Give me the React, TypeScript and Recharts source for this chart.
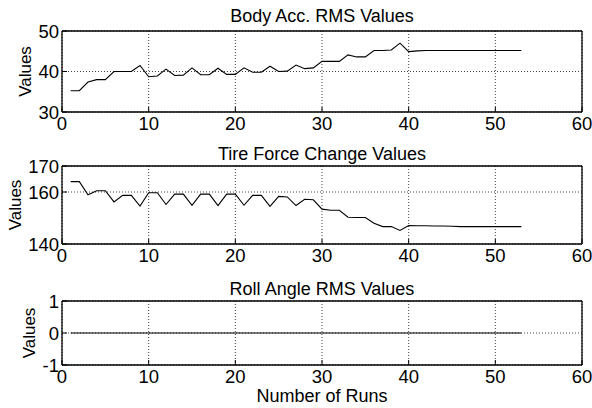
import React from 'react';
import { LineChart, Line, XAxis, YAxis, CartesianGrid } from 'recharts';

const runs = [1, 2, 3, 4, 5, 6, 7, 8, 9, 10, 11, 12, 13, 14, 15, 16, 17, 18, 19, 20, 21, 22, 23, 24, 25, 26, 27, 28, 29, 30, 31, 32, 33, 34, 35, 36, 37, 38, 39, 40, 41, 42, 43, 44, 45, 46, 47, 48, 49, 50, 51, 52, 53];

const bodyAcc = [35.25, 35.25, 37.4, 38.0, 38.0, 40.0, 40.0, 40.0, 41.5, 38.7, 38.9, 40.6, 39.0, 39.1, 40.9, 39.2, 39.2, 40.8, 39.3, 39.3, 40.9, 39.8, 39.8, 41.3, 40.0, 40.1, 41.6, 40.7, 40.9, 42.5, 42.5, 42.5, 44.1, 43.6, 43.6, 45.2, 45.2, 45.3, 47.0, 44.9, 45.1, 45.2, 45.2, 45.2, 45.2, 45.2, 45.2, 45.2, 45.2, 45.2, 45.2, 45.2, 45.2];

const tireForce = [164, 164, 158.9, 160.5, 160.5, 156.2, 158.7, 158.7, 154.6, 159.7, 159.7, 155.2, 159.2, 159.2, 154.9, 159.2, 159.2, 154.8, 159.2, 159.2, 154.9, 158.7, 158.7, 154.5, 158.3, 158.1, 154.8, 157.2, 157.0, 153.4, 153.0, 153.0, 150.3, 150.2, 150.2, 148.0, 146.7, 146.7, 145.2, 147.1, 147.0, 147.0, 146.9, 146.9, 146.8, 146.7, 146.7, 146.7, 146.7, 146.7, 146.7, 146.7, 146.7];

const rollAngle = [0, 0, 0, 0, 0, 0, 0, 0, 0, 0, 0, 0, 0, 0, 0, 0, 0, 0, 0, 0, 0, 0, 0, 0, 0, 0, 0, 0, 0, 0, 0, 0, 0, 0, 0, 0, 0, 0, 0, 0, 0, 0, 0, 0, 0, 0, 0, 0, 0, 0, 0, 0, 0];

const xTicks = [0, 10, 20, 30, 40, 50, 60];
const bodyTicks = [30, 40, 50];
const tireTicks = [140, 160, 170];
const rollTicks = [-1, 0, 1];

const titles = ['Body Acc. RMS Values', 'Tire Force Change Values', 'Roll Angle RMS Values'];
const yLabel = 'Values';
const xLabel = 'Number of Runs';

const data = runs.map((r, i) => ({ run: r, body: bodyAcc[i], tire: tireForce[i], roll: rollAngle[i] }));

const FONT = '"Liberation Sans", Arial, Helvetica, sans-serif';
const textStyle = { fill: '#000', fontSize: 18, fontFamily: FONT };
const tickStyle = { fill: '#000', fontSize: 18.5, fontFamily: FONT };
const yLabelStyle = { fill: '#000', fontSize: 17, fontFamily: FONT };

type PanelProps = {
  title: string;
  dataKey: string;
  domain: [number, number];
  yTicks: number[];
  top: number;
  plotHeight: number;
  bottomHeight: number;
  showXLabel?: boolean;
  titleDy: number;
  yLabelDx: number;
};

function Panel({ title, dataKey, domain, yTicks, top, plotHeight, bottomHeight, showXLabel, titleDy, yLabelDx }: PanelProps) {
  const topH = 31;
  const height = topH + plotHeight + bottomHeight;
  return (
    <div style={{ position: 'absolute', left: 0, top, width: 592, height }}>
      <LineChart width={592} height={height} data={data} margin={{ top: 0, right: 0, bottom: 0, left: 0 }}>
        <CartesianGrid stroke="#444" strokeDasharray="1 2" strokeWidth={1} />
        <XAxis
          dataKey="run"
          type="number"
          domain={[0, 60]}
          ticks={xTicks}
          interval={0}
          height={bottomHeight}
          tickSize={-5}
          tickMargin={10}
          stroke="#000"
          tick={tickStyle}
          axisLine={{ stroke: '#000', strokeWidth: 1.3 }}
          tickLine={{ stroke: '#000' }}
          label={showXLabel ? { value: xLabel, position: 'insideBottom', offset: 6, style: textStyle } : undefined}
        />
        <XAxis
          xAxisId="top"
          orientation="top"
          dataKey="run"
          type="number"
          domain={[0, 60]}
          ticks={xTicks}
          interval={0}
          height={topH}
          tickSize={-5}
          tick={false}
          stroke="#000"
          axisLine={{ stroke: '#000', strokeWidth: 1.3 }}
          tickLine={{ stroke: '#000' }}
          label={{ value: title, position: 'center', dy: titleDy, style: textStyle }}
        />
        <YAxis
          type="number"
          domain={domain}
          ticks={yTicks}
          interval={0}
          width={62}
          tickSize={-5}
          tickMargin={8}
          stroke="#000"
          tick={tickStyle}
          axisLine={{ stroke: '#000', strokeWidth: 1.3 }}
          tickLine={{ stroke: '#000' }}
          label={{ value: yLabel, angle: -90, position: 'center', dx: yLabelDx, style: yLabelStyle }}
        />
        <YAxis
          yAxisId="right"
          orientation="right"
          type="number"
          domain={domain}
          ticks={yTicks}
          interval={0}
          width={10}
          tickSize={-5}
          tick={false}
          stroke="#000"
          axisLine={{ stroke: '#000', strokeWidth: 1.3 }}
          tickLine={{ stroke: '#000' }}
        />
        <Line
          type="linear"
          dataKey={dataKey}
          stroke="#000"
          strokeWidth={1.1}
          dot={false}
          isAnimationActive={false}
        />
      </LineChart>
    </div>
  );
}

export default function App() {
  return (
    <div style={{ position: 'absolute', left: 0, top: 0, width: 592, height: 408, background: '#fff', fontFamily: FONT }}>
      <Panel title={titles[0]} dataKey="body" domain={[30, 50]} yTicks={bodyTicks} top={0} plotHeight={81} bottomHeight={23} titleDy={0} yLabelDx={-6} />
      <Panel title={titles[1]} dataKey="tire" domain={[140, 170]} yTicks={tireTicks} top={135} plotHeight={78} bottomHeight={22} titleDy={3} yLabelDx={-16} />
      <Panel title={titles[2]} dataKey="roll" domain={[-1, 1]} yTicks={rollTicks} top={270} plotHeight={64} bottomHeight={43} showXLabel titleDy={3} yLabelDx={-2} />
    </div>
  );
}
